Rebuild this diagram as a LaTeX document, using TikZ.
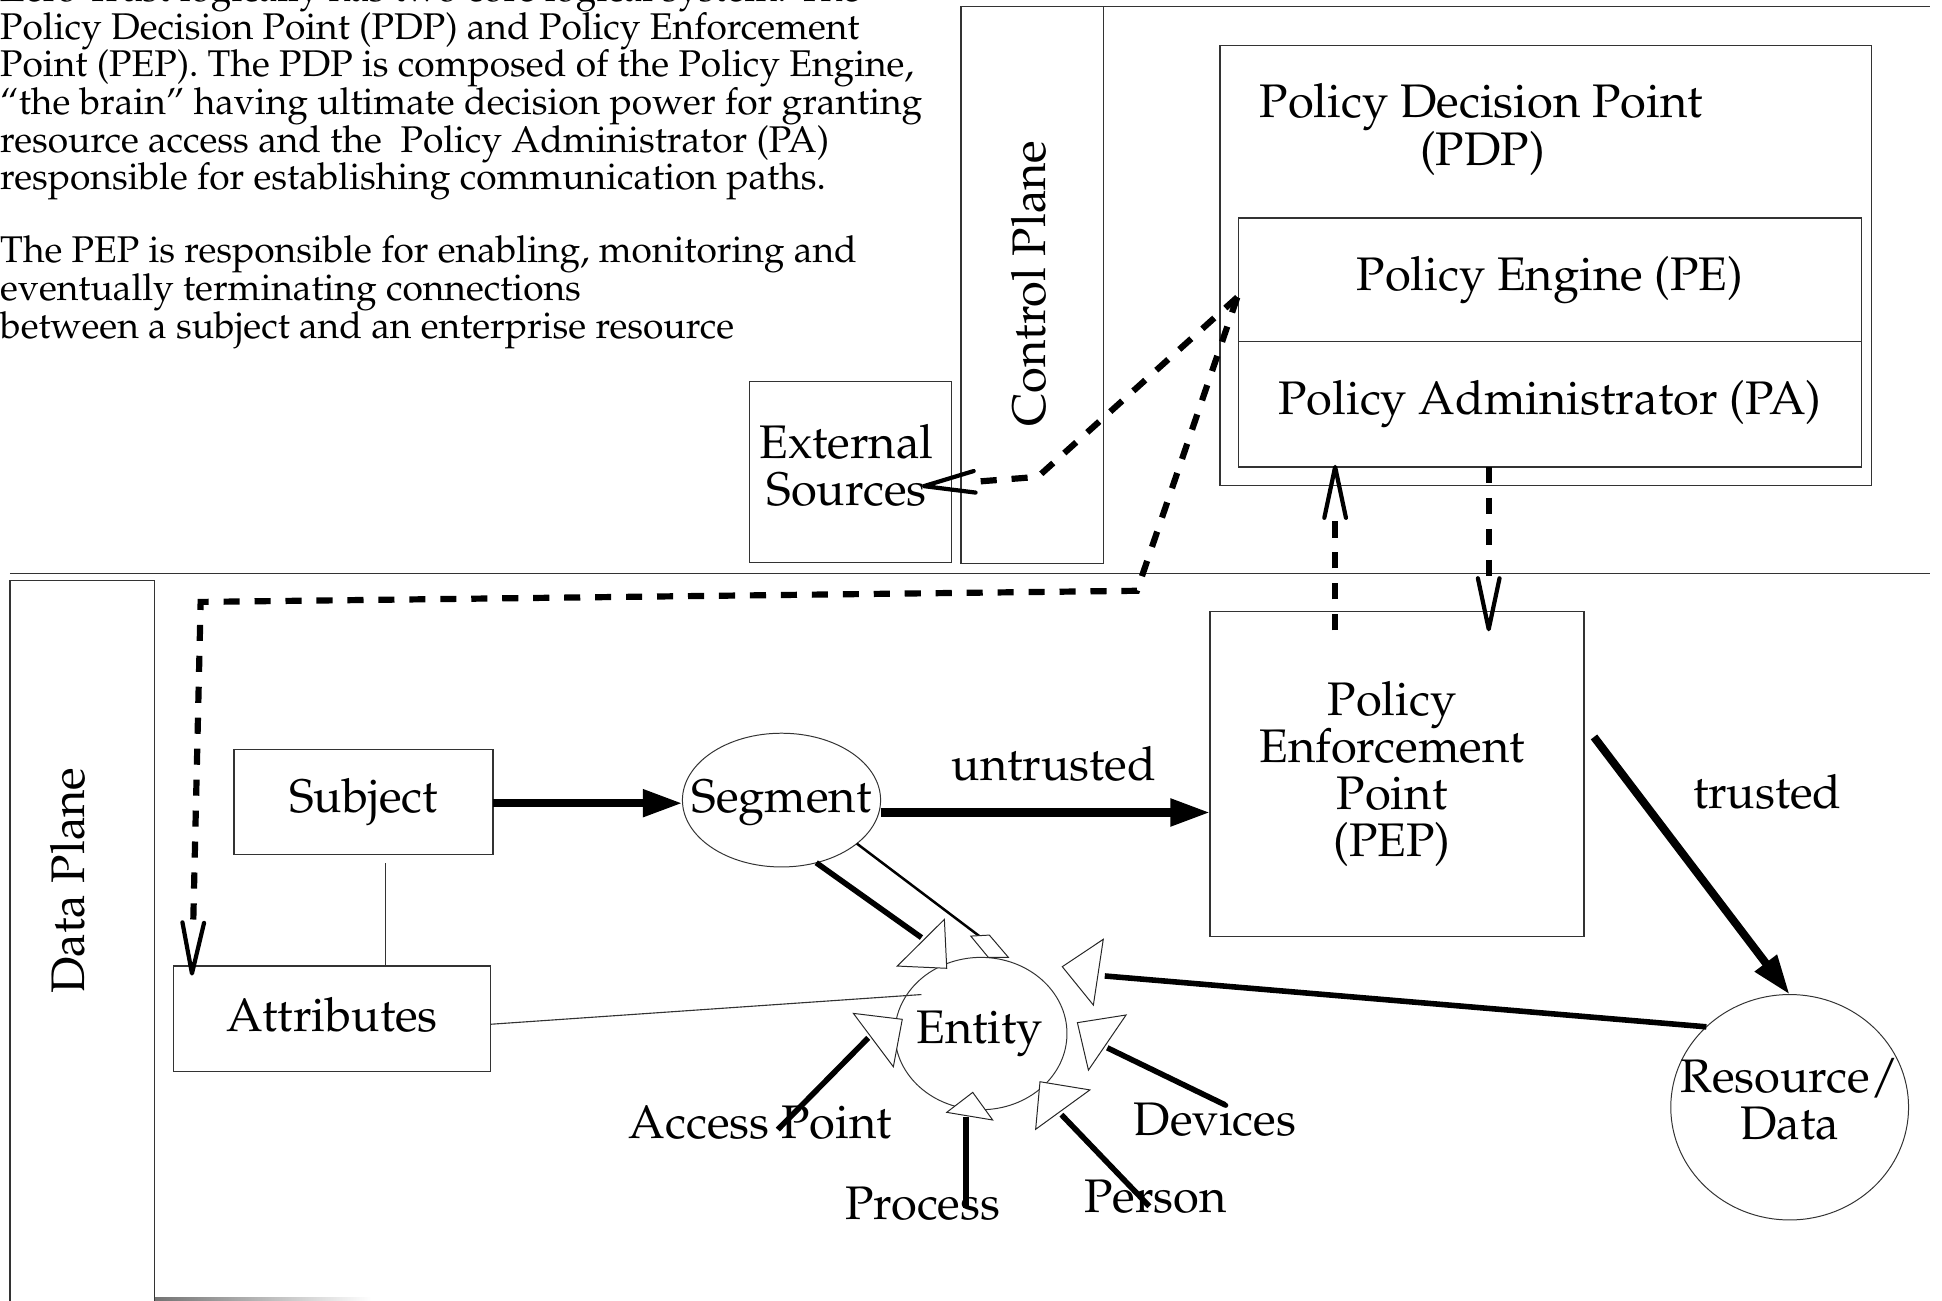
\documentclass[tikz,border=0pt]{standalone}
\usepackage[T1]{fontenc}
\usepackage{mathpazo}
\usetikzlibrary{arrows.meta,shapes.geometric,calc}

% fixed line pitch, whatever the glyph heights
\newcommand{\labelfont}{\fontsize{38}{38}\selectfont\lineskiplimit=-100pt\relax}
\newcommand{\parafont}{\fontsize{30}{30.4}\selectfont\lineskiplimit=-100pt\relax}

\tikzset{
  boxed/.style={draw=black!80, line width=1pt, inner sep=0pt, outer sep=0pt},
  txt/.style={font=\labelfont, inner sep=0pt, align=center},
  para/.style={font=\parafont, inner sep=0pt, align=left},
  oval/.style={ellipse, draw=black!80, line width=0.8pt, inner sep=0pt, outer sep=0pt},
  flow/.style={line width=6.5pt, -{Triangle[length=32pt,width=21pt]}},
  spoke/.style={line width=4.5pt},
  hair/.style={line width=0.9pt, draw=black!80},
  ctrlpath/.style={line width=5pt, dash pattern=on 13pt off 12pt},
  vhead/.style={line width=3.4pt, line cap=round, line join=round},
  tri/.style={draw=black!85, line width=0.8pt, fill=white, line join=miter},
}

% open "V" arrow head: #1 = tip, #2 = a point on the shaft behind it
\newcommand{\openhead}[2]{%
  \draw[vhead] ($(#1)!42pt!12:(#2)$) -- (#1) -- ($(#1)!42pt!-12:(#2)$);}

\begin{document}
\begin{tikzpicture}[x=1pt,y=-1pt]
\useasboundingbox (0,0) rectangle (1568,1050);

% ---------------- introduction text
\node[para, anchor=north west] (intro) at (0,-20.6) {%
Zero Trust logically has two core logical system. The\\
Policy Decision Point (PDP) and Policy Enforcement\\
Point (PEP). The PDP is composed of the Policy Engine,\\
``the brain'' having ultimate decision power for granting\\
resource access and the \ Policy Administrator (PA)\\
responsible for establishing communication paths.\\[28.6pt]
The PEP is responsible for enabling, monitoring and\\
eventually terminating connections\\
between a subject and an enterprise resource};

% ---------------- control plane
\node[boxed, minimum width=115pt, minimum height=450pt] (ctrl) at (833.5,230) {};
\node[txt, rotate=90] (ctrltxt) at (831,229) {Control Plane};
\coordinate (topR) at (1558,5);
\draw[hair] (ctrl.north east) -- (topR);

\node[boxed, minimum width=163pt, minimum height=146pt] (ext) at (686.5,381) {};
\node[txt] (exttxt) at ([shift={(-3,-5)}]ext.center) {External\\Sources};

\node[boxed, minimum width=526pt, minimum height=355pt] (pdp) at (1248,214.5) {};
\node[txt, anchor=base west] (pdptitle) at (1017,95) {Policy Decision Point};
\node[txt, anchor=base] (pdpabbr) at (1197,134) {(PDP)};
\node[boxed, txt, minimum width=503pt, minimum height=100pt] (pe) at (1251.5,226) {Policy Engine (PE)};
\node[boxed, txt, minimum width=503pt, minimum height=101pt] (pa) at (1251.5,326.5) {Policy Administrator (PA)};

% ---------------- plane separator
\coordinate (sepL) at (8,463);
\coordinate (sepR) at (1558,463);
\draw[hair] (sepL) -- (sepR);

% ---------------- data plane
\node[boxed, minimum width=117pt, minimum height=584pt] (dplane) at (66.5,761) {};
\node[txt, rotate=90] (dptxt) at (55,711) {Data Plane};
\shade[left color=black!55, right color=white] (125,1048) rectangle (300,1050.5);

\node[boxed, txt, minimum width=209pt, minimum height=85pt] (subj) at (293.5,647.5) {Subject};
\node[boxed, minimum width=256pt, minimum height=85pt] (attr) at (268,822.5) {};
\node[txt] (attrtxt) at ([yshift=3pt]attr.center) {Attributes};

\node[oval, minimum width=160pt, minimum height=108pt] (seg) at (631,646) {};
\node[txt] (segtxt) at ([yshift=-2pt]seg.center) {Segment};

\node[boxed, minimum width=302pt, minimum height=262pt] (pep) at (1128,625) {};
\node[txt] (peptxt) at ([xshift=-4pt]pep.center) {Policy\\Enforcement\\Point\\(PEP)};

\node[oval, minimum width=139pt, minimum height=123pt] (ent) at (792,834.5) {};
\node[txt] (enttxt) at ([xshift=-1pt]ent.center) {Entity};

\node[oval, minimum width=192pt, minimum height=182pt] (res) at (1445,894) {};
\node[txt] (restxt) at ([yshift=7pt]res.center) {Resource/\\Data};

% labels
\node[txt, anchor=base] (lut) at (851,630) {untrusted};
\node[txt, anchor=base] (ltr) at (1427,653) {trusted};
\node[txt, anchor=base] (lap) at (614,919) {Access Point};
\node[txt, anchor=base] (lpr) at (745,985) {Process};
\node[txt, anchor=base] (lps) at (933,979) {Person};
\node[txt, anchor=base] (ldv) at (981,917) {Devices};

% ---------------- thin links
\coordinate (sa1) at ([xshift=17.5pt,yshift=-7pt]subj.south);
\coordinate (sa2) at (sa1 |- attr.north);
\draw[hair] (sa1) -- (sa2);
\coordinate (entL) at (744,803);
\draw[hair] ([yshift=-4.5pt]attr.east) -- (entL);

% ---------------- data flow
\draw[flow] ([yshift=-1pt]subj.east) -- ([yshift=-1pt]subj.east -| seg.west);
\draw[flow] ([yshift=-10pt]seg.east) -- ([yshift=-10pt]seg.east -| pep.west);
\draw[flow] ([shift={(8,-30)}]pep.east) -- (res.north);

% ---------------- entity spokes
\coordinate (entR) at (892,788);
\draw[spoke] (res.136) -- (entR);
\coordinate (segIn) at (744,757);
\draw[spoke] (seg.-61) -- (segIn);
\coordinate (segIn2) at (791,756);
\draw[line width=2pt] (seg.-30) -- (segIn2);
\coordinate (apEnd) at (628,912);  \coordinate (apIn) at (701,838);
\coordinate (prEnd) at (780,975);  \coordinate (prIn) at (780,902);
\coordinate (psEnd) at (928,974);  \coordinate (psIn) at (857,900);
\coordinate (dvEnd) at (989,892);  \coordinate (dvIn) at (894,846);
\draw[spoke] (apEnd) -- (apIn);
\draw[spoke] (prEnd) -- (prIn);
\draw[spoke] (psEnd) -- (psIn);
\draw[spoke] (dvEnd) -- (dvIn);

% hollow heads around the entity
\draw[tri] (724.5,780) -- (762.5,742.3) -- (764.4,781.8) -- cycle;
\draw[tri] (783.8,755.8) -- (798.8,755) -- (814.2,773) -- (798,773) -- cycle;
\draw[tri] (857.7,780.5) -- (890.8,758.4) -- (882.8,811.5) -- cycle;
\draw[tri] (869.9,825.7) -- (909.2,819.5) -- (878.8,864) -- cycle;
\draw[tri] (839.7,873.4) -- (880,880) -- (836.2,911.8) -- cycle;
\draw[tri] (764.4,898.1) -- (785.4,882) -- (801.5,904.3) -- cycle;
\draw[tri] (689,818.2) -- (728.5,823) -- (721.3,861.3) -- cycle;

% ---------------- control paths (dashed)
\coordinate (peL) at ([shift={(-1,14)}]pe.west);
\coordinate (a1) at (838,385);
\coordinate (a2) at (787,389);
\coordinate (extTip) at (746,392.5);
\draw[ctrlpath] (peL) -- (a1) -- (a2);
\openhead{extTip}{a2}

\coordinate (b1) at (918,477);
\coordinate (b2) at (162,486);
\coordinate (b3) at (156,746);
\coordinate (attrTip) at (155,786);
\draw[ctrlpath] (peL) -- (b1) -- (b2) -- (b3);
\openhead{attrTip}{b3}

\coordinate (c0) at ([xshift=-50pt,yshift=-15pt]pep.north);
\coordinate (cTip) at (c0 |- pa.south);
\coordinate (c1) at ($(cTip)+(0,42)$);
\draw[ctrlpath] (c0) -- (c1);
\openhead{cTip}{c1}

\coordinate (d0) at ([xshift=-49.5pt]pa.south);
\coordinate (dTip) at ([xshift=74pt,yshift=-14pt]pep.north);
\coordinate (d1) at ($(dTip)+(0,-41)$);
\draw[ctrlpath] (d0) -- (d1);
\openhead{dTip}{d1}

\end{tikzpicture}
\end{document}
